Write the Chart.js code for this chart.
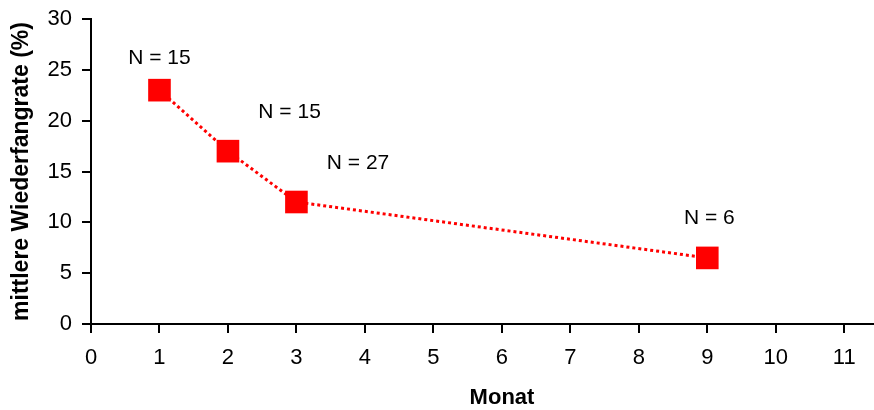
<!DOCTYPE html>
<html>
<head>
<meta charset="utf-8">
<script src="https://cdn.jsdelivr.net/npm/chart.js@4.4.0/dist/chart.umd.min.js"></script>
<style>
  html, body { margin: 0; background: #fff; overflow: hidden; }
  #wrap { width: 874px; height: 410px; position: relative; }
  #lineChart { display: block; }
</style>
</head>
<body>
<div id="wrap"><canvas id="lineChart"></canvas></div>
<script>
// data
const months = [1, 2, 3, 9];
const rates = [23, 17, 12, 6.5];
const nLabels = ["N = 15", "N = 15", "N = 27", "N = 6"];
// where each N label sits, in data units
const labelX = [1, 2.9, 3.9, 9.03];
const labelY = [26.1, 20.8, 15.8, 10.4];
const xTicks = [0, 1, 2, 3, 4, 5, 6, 7, 8, 9, 10, 11];
const yTicks = [0, 5, 10, 15, 20, 25, 30];

const font = "'Liberation Sans', Arial, sans-serif";

// draws the N = .. labels and the two axis titles
const labelPlugin = {
  id: "nLabels",
  afterDraw(chart) {
    const ctx = chart.ctx;
    const xs = chart.scales.x;
    const ys = chart.scales.y;
    ctx.save();
    ctx.fillStyle = "#000";
    ctx.font = "21px " + font;
    ctx.textAlign = "center";
    ctx.textBaseline = "middle";
    nLabels.forEach((txt, i) => {
      ctx.fillText(txt, xs.getPixelForValue(labelX[i]), ys.getPixelForValue(labelY[i]));
    });

    ctx.font = "bold 22px " + font;
    ctx.fillText("Monat", 502, 398);

    ctx.font = "bold 23px " + font;
    ctx.translate(22, (chart.chartArea.top + chart.chartArea.bottom) / 2);
    ctx.rotate(-Math.PI / 2);
    ctx.fillText("mittlere Wiederfangrate (%)", 0, 0);
    ctx.restore();
  },
};

const ctx = document.getElementById("lineChart").getContext("2d");
new Chart(ctx, {
  type: "line",
  data: {
    datasets: [
      {
        data: months.map((m, i) => ({ x: m, y: rates[i] })),
        borderColor: "#ff0000",
        borderWidth: 3,
        borderDash: [3, 3],
        pointStyle: "rect",
        pointRadius: 16,
        pointHoverRadius: 16,
        pointBackgroundColor: "#ff0000",
        pointBorderColor: "#ff0000",
        pointBorderWidth: 0,
        tension: 0,
      },
    ],
  },
  options: {
    responsive: true,
    maintainAspectRatio: false,
    animation: false,
    layout: { autoPadding: false, padding: { top: 19, right: 1 } },
    plugins: {
      legend: { display: false },
      tooltip: { enabled: false },
    },
    scales: {
      x: {
        type: "linear",
        min: 0,
        max: 11.42,
        afterBuildTicks: (axis) => {
          axis.ticks = xTicks.map((v) => ({ value: v }));
        },
        afterFit: (axis) => {
          axis.height = 86;
          axis.paddingLeft = 0;
          axis.paddingRight = 0;
        },
        border: { color: "#000", width: 2 },
        grid: { drawOnChartArea: false, drawTicks: true, tickLength: 9, color: "#000", lineWidth: 2 },
        ticks: { color: "#000", padding: 12, font: { family: font, size: 22 } },
      },
      y: {
        min: 0,
        max: 30,
        afterBuildTicks: (axis) => {
          axis.ticks = yTicks.map((v) => ({ value: v }));
        },
        afterFit: (axis) => {
          axis.width = 91;
          axis.paddingTop = 0;
          axis.paddingBottom = 0;
        },
        border: { color: "#000", width: 2 },
        grid: { drawOnChartArea: false, drawTicks: true, tickLength: 9, color: "#000", lineWidth: 2 },
        ticks: { color: "#000", padding: 10, font: { family: font, size: 22 } },
      },
    },
  },
  plugins: [labelPlugin],
});
</script>
</body>
</html>
